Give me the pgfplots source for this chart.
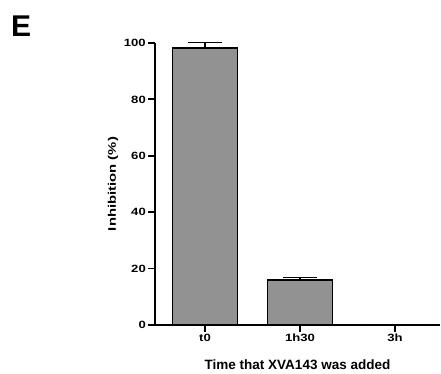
\documentclass[border=0pt]{standalone}
\usepackage{pgfplots}
\pgfplotsset{compat=1.18}
\usepackage{fontspec}
\setmainfont{Liberation Sans}
\newfontfamily\tickfont{Liberation Sans}[FakeStretch=1.25]
\newfontfamily\ylabfont{Liberation Sans}[FakeStretch=1.35]
\definecolor{bargray}{RGB}{146,146,146}
\begin{document}
\begin{tikzpicture}[x=1pt,y=1pt]
\path[use as bounding box] (0,0) rectangle (441,374);
\node[anchor=base west, inner sep=0pt, font=\fontsize{30}{34}\selectfont\bfseries] at (11,337) {E};
\begin{axis}[
  at={(155pt,49pt)}, anchor=south west,
  scale only axis, width=285pt, height=282pt,
  xmin=-0.526, xmax=2.474, ymin=0, ymax=100,
  axis x line*=bottom, axis y line*=left,
  axis line style={line width=1.8pt},
  tick align=outside, major tick length=7pt,
  tick style={line width=1.8pt, black},
  xtick={0,1,2}, xticklabels={t0,1h30,3h},
  ytick={0,20,40,60,80,100},
  /pgf/number format/assume math mode=true,
  ticklabel style={font=\tickfont\fontsize{10.5}{12}\selectfont\bfseries},
  yticklabel style={inner sep=2pt},
  xticklabel style={inner sep=2pt},
  xlabel={Time that XVA143 was added},
  ylabel={Inhibition (\%)},
  every axis x label/.style={at={([yshift=-45pt]axis description cs:0.5,0)}, anchor=base, font=\fontsize{13.5}{15}\selectfont\bfseries},
  every axis y label/.style={at={([xshift=-42pt]axis description cs:0,0.5)}, anchor=center, rotate=90, font=\ylabfont\fontsize{11}{13}\selectfont\bfseries},
]
\addplot[ybar, bar width=65pt, bar shift=0pt, fill=bargray, draw=black, line width=1.8pt,
  error bars/.cd, y dir=plus, y explicit,
  error bar style={line width=1.5pt, black},
  error mark options={rotate=90, mark size=17pt, line width=1.5pt, black}]
  coordinates {(0,98.3) +- (0,1.9) (1,16.0) +- (0,0.8) (2,0)};
\end{axis}
\end{tikzpicture}
\end{document}
